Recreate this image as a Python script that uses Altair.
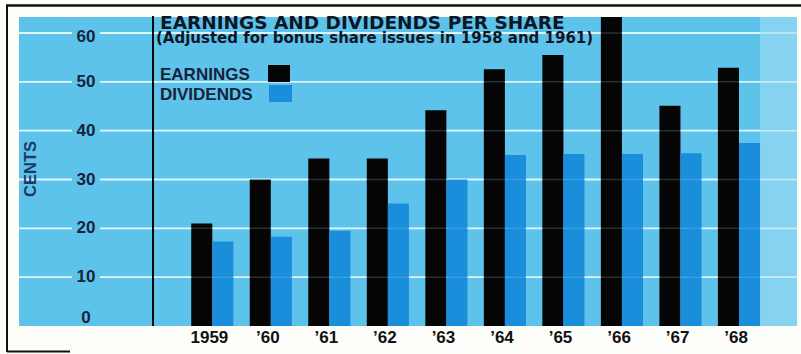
import altair as alt
import pandas as pd

years = [1959, 1960, 1961, 1962, 1963, 1964, 1965, 1966, 1967, 1968]
year_labels = ["1959", "’60", "’61", "’62", "’63", "’64", "’65", "’66", "’67", "’68"]
earnings = [21.0, 30.0, 34.3, 34.3, 44.2, 52.6, 55.5, 63.3, 45.1, 52.9]
dividends = [17.3, 18.3, 19.5, 25.1, 30.0, 35.0, 35.2, 35.2, 35.4, 37.5]
y_ticks = [0, 10, 20, 30, 40, 50, 60]

title_text = "EARNINGS AND DIVIDENDS PER SHARE"
subtitle_text = "(Adjusted for bonus share issues in 1958 and 1961)"
legend_names = ["EARNINGS", "DIVIDENDS"]
y_title = "CENTS"

PANEL = "#5ec3ea"
STRIP = "#86d3f1"
BLACK = "#050505"
BLUE = "#1a8edb"
INK = "#17233a"

W, H = 801, 354
BW = 0.36  # bar width in years

xs = alt.Scale(domain=[1955.3722, 1969.0598], nice=False, zero=False)
ys = alt.Scale(domain=[-5.734, 66.762], nice=False, zero=False)

bars_df = pd.DataFrame({"year": years, "label": year_labels,
                        "earn": earnings, "div": dividends})
ticks_df = pd.DataFrame({"v": y_ticks})
grid_df = pd.DataFrame({"v": [t for t in y_ticks if t > 0]})

base = alt.Chart(bars_df)
one = alt.Chart(bars_df.head(1))

# decoration
frame_top = one.mark_rule(color="#111", strokeWidth=2.5).encode(
    x=alt.value(6), x2=alt.value(801), y=alt.value(5.5))
frame_left = one.mark_rule(color="#111", strokeWidth=2).encode(
    x=alt.value(7), y=alt.value(5), y2=alt.value(352))
frame_bot = one.mark_rule(color="#111", strokeWidth=2).encode(
    x=alt.value(7), x2=alt.value(70), y=alt.value(351.5))
panel = one.mark_rect(color=PANEL).encode(
    x=alt.value(19), x2=alt.value(760), y=alt.value(17), y2=alt.value(326))
strip = one.mark_rect(color=STRIP).encode(
    x=alt.value(760), x2=alt.value(797), y=alt.value(17), y2=alt.value(326))

grid_a = alt.Chart(grid_df).mark_rule(color="#f2fbff", strokeWidth=1.8, opacity=0.9).encode(
    y=alt.Y("v:Q", scale=ys, axis=None), x=alt.value(19), x2=alt.value(72))
grid_b = alt.Chart(grid_df).mark_rule(color="#f2fbff", strokeWidth=1.8, opacity=0.9).encode(
    y=alt.Y("v:Q", scale=ys, axis=None), x=alt.value(100), x2=alt.value(760))
grid_c = alt.Chart(grid_df).mark_rule(color="#f2fbff", strokeWidth=1.6, opacity=0.6).encode(
    y=alt.Y("v:Q", scale=ys, axis=None), x=alt.value(760), x2=alt.value(797))

vline = one.mark_rule(color="#0a0a0a", strokeWidth=2).encode(
    x=alt.value(153), y=alt.value(16), y2=alt.value(326))

earn_bars = base.transform_calculate(x0=f"datum.year - {BW}").mark_bar(color=BLACK).encode(
    x=alt.X("x0:Q", scale=xs, axis=None), x2="year:Q",
    y=alt.Y("earn:Q", scale=ys, axis=None), y2=alt.datum(0))
div_bars = base.transform_calculate(x1=f"datum.year + {BW}").mark_bar(color=BLUE).encode(
    x=alt.X("year:Q", scale=xs, axis=None), x2="x1:Q",
    y=alt.Y("div:Q", scale=ys, axis=None), y2=alt.datum(0))

grid_over = alt.Chart(grid_df).mark_rule(color="#bfeeff", strokeWidth=1.5, opacity=0.18).encode(
    y=alt.Y("v:Q", scale=ys, axis=None), x=alt.value(153), x2=alt.value(760))

x_labels = base.transform_calculate(xl="datum.year - 0.05").mark_text(
    font="Liberation Sans", fontWeight="bold", fontSize=17, color="#111",
    align="center", baseline="alphabetic").encode(
    x=alt.X("xl:Q", scale=xs, axis=None), y=alt.value(343), text="label:N")

y_labels = alt.Chart(ticks_df).transform_calculate(
    ly="datum.v == 60 ? datum.v - 0.8 : (datum.v == 0 ? datum.v + 1.6 : datum.v)",
    lt="'' + datum.v").mark_text(
    font="Liberation Sans", fontWeight="bold", fontSize=17, color=INK,
    align="center", baseline="middle").encode(
    y=alt.Y("ly:Q", scale=ys, axis=None), x=alt.value(86), text="lt:N")

cents = one.mark_text(
    text=y_title, font="Liberation Sans", fontWeight="bold", fontSize=16.5,
    color="#1d3a66", angle=270, align="center", baseline="middle").encode(
    x=alt.value(31), y=alt.value(169))

title = one.mark_text(
    text=title_text, font="DejaVu Sans", fontWeight="bold", fontSize=18.5,
    color="#0e1626", align="left", baseline="alphabetic").encode(
    x=alt.value(160), y=alt.value(29))
subtitle = one.mark_text(
    text=subtitle_text, font="DejaVu Sans", fontWeight="bold", fontSize=15,
    color="#0e1626", align="left", baseline="alphabetic").encode(
    x=alt.value(156), y=alt.value(42.5))

leg_df = pd.DataFrame({"name": legend_names, "color": [BLACK, BLUE]})
leg_text = alt.Chart(leg_df).transform_calculate(
    ty="datum.name == 'EARNINGS' ? 80 : 100").mark_text(
    font="Liberation Sans", fontWeight="bold", fontSize=17, color="#16223a",
    align="left", baseline="alphabetic").encode(
    x=alt.value(160), y=alt.Y("ty:Q", scale=alt.Scale(domain=[0, H], range=[0, H]), axis=None),
    text="name:N")
leg_sw1 = alt.Chart(leg_df.head(1)).mark_rect(color=BLACK).encode(
    x=alt.value(268), x2=alt.value(290), y=alt.value(65), y2=alt.value(82))
leg_sw2 = alt.Chart(leg_df.tail(1)).mark_rect(color=BLUE).encode(
    x=alt.value(269), x2=alt.value(292), y=alt.value(85), y2=alt.value(102))

chart = alt.layer(
    frame_top, frame_left, frame_bot, panel, strip, grid_a, grid_b, grid_c,
    vline, earn_bars, div_bars, grid_over, x_labels, y_labels, cents,
    title, subtitle, leg_text, leg_sw1, leg_sw2
).resolve_scale(y="independent").properties(
    width=W, height=H, autosize=alt.AutoSizeParams(type="none"), padding=0,
    background="#fdfdfa"
).configure_view(stroke=None)

chart.save("out.html", embed_options={"renderer": "svg", "actions": False})
